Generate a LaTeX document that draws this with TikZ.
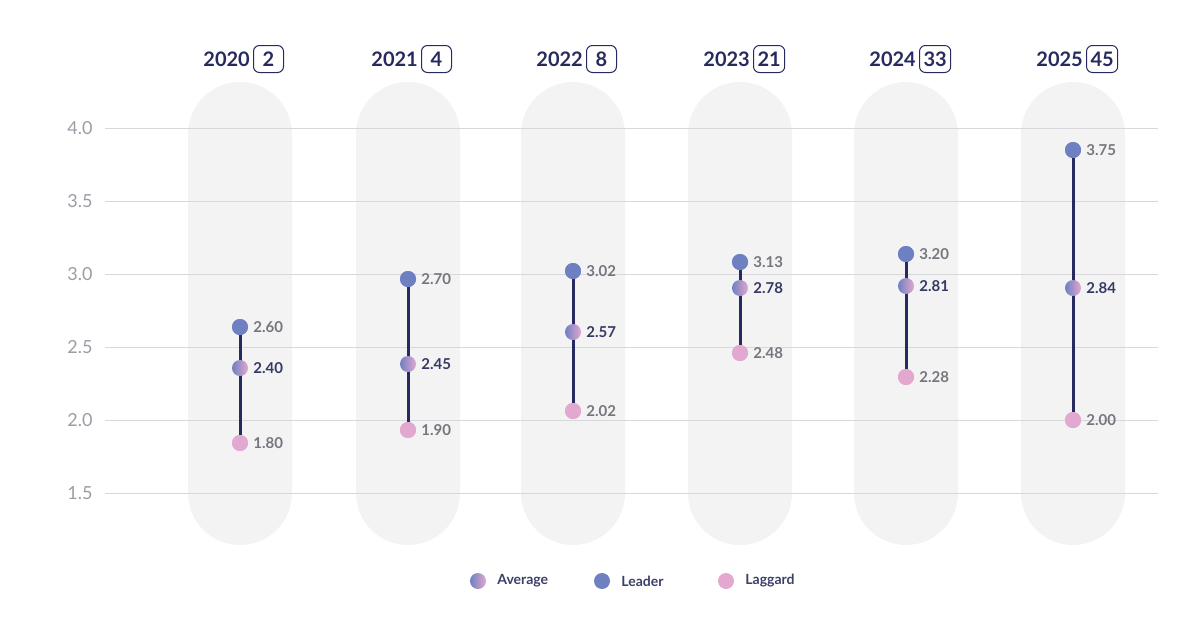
\documentclass[tikz,border=0pt]{standalone}
\usepackage{fontspec}
\setmainfont{Lato}
\usetikzlibrary{positioning}
\definecolor{navy}{HTML}{262A5E}
\definecolor{lead}{HTML}{6F80C2}
\definecolor{lag}{HTML}{E2A8CF}
\definecolor{pill}{HTML}{F3F3F4}
\definecolor{grid}{HTML}{D8D8DC}
\definecolor{tick}{HTML}{9C9CA6}
\definecolor{val}{HTML}{76767E}

\tikzset{
  leader/.style={circle, fill=lead, inner sep=0pt, minimum size=16pt},
  laggard/.style={circle, fill=lag, inner sep=0pt, minimum size=16pt},
  average/.style={circle, left color=lead, right color=lag, inner sep=0pt, minimum size=16pt},
  vlabel/.style={anchor=west, font=\bfseries\fontsize{15}{15}\selectfont, text=val, inner sep=0pt},
  alabel/.style={vlabel, text=navy!80!val},
  yearlab/.style={font=\bfseries\fontsize{20}{20}\selectfont, text=navy, inner sep=0pt},
  countbox/.style={draw=navy, rounded corners=6pt, line width=1pt, font=\bfseries\fontsize{20}{20}\selectfont, text=navy, minimum height=27pt, minimum width=30pt, inner sep=4pt},
  legtext/.style={font=\bfseries\fontsize{14}{14}\selectfont, text=navy!75!gray, inner sep=0pt}
}

\begin{document}
\begin{tikzpicture}[x=1pt, y=-1pt]
  \useasboundingbox (0,0) rectangle (1200,630);
  % pills
  \foreach \x in {240,408,573,740,906,1073}
    \fill[pill, rounded corners=52pt] ({\x-52},82) rectangle ({\x+52},545);
  % grid and ticks
  \foreach \v [count=\i from 0] in {4.0,3.5,3.0,2.5,2.0,1.5} {
    \draw[grid, line width=1pt] (105,{128+73*\i}) -- (1158,{128+73*\i});
    \node[anchor=east, text=tick, font=\fontsize{18}{18}\selectfont] (t\i) at (96,{128+73*\i}) {\v};
  }
  % columns: x / year / count / leader / avg / laggard
  \foreach \x/\yr/\n/\yl/\ya/\yg/\vl/\va/\vg in {
    240/2020/2/327/368/443/2.60/2.40/1.80,
    408/2021/4/279/364/430/2.70/2.45/1.90,
    573/2022/8/271/332/411/3.02/2.57/2.02,
    740/2023/21/262/288/353/3.13/2.78/2.48,
    906/2024/33/254/286/377/3.20/2.81/2.28,
    1073/2025/45/150/288/420/3.75/2.84/2.00} {
    \node[yearlab, anchor=east] (yr\yr) at ({\x+10},59) {\yr};
    \node[countbox, right=3pt of yr\yr] (cnt\yr) {\n};
    \node[leader] (ld\yr) at (\x,\yl) {};
    \node[laggard] (lg\yr) at (\x,\yg) {};
    \draw[navy, line width=3pt] (ld\yr) -- (lg\yr);
    \node[leader] at (ld\yr) {};
    \node[laggard] at (lg\yr) {};
    \node[average] (av\yr) at (\x,\ya) {};
    \node[vlabel] at ([xshift=5pt]ld\yr.east) {\vl};
    \node[alabel] at ([xshift=5pt]av\yr.east) {\va};
    \node[vlabel] at ([xshift=5pt]lg\yr.east) {\vg};
  }
  % legend
  \node[average] (lav) at (478,581) {};
  \node[legtext, right=11pt of lav] (tav) {Average};
  \node[leader] (lld) at (602,581) {};
  \node[legtext, right=11pt of lld] (tld) {Leader};
  \node[laggard] (llg) at (726,581) {};
  \node[legtext, right=11pt of llg] (tlg) {Laggard};
\end{tikzpicture}
\end{document}
